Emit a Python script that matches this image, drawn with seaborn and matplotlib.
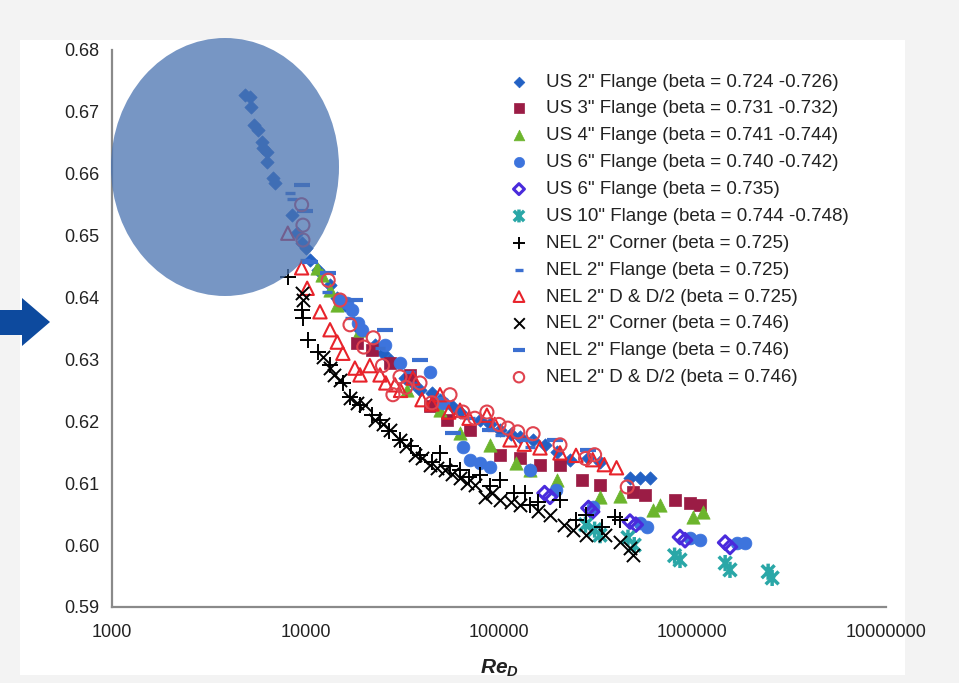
import numpy as np
import pandas as pd
import matplotlib
matplotlib.use("Agg")
import matplotlib.pyplot as plt
import seaborn as sns
from matplotlib.patches import Ellipse, Polygon, Rectangle
from matplotlib.path import Path
from matplotlib.ticker import FixedLocator, FuncFormatter, NullLocator

# ---------------- data ----------------
us2_re = [4860, 5160, 5220, 5420, 5690, 5960, 6030, 6320, 6320, 6790, 6950, 8510, 9030, 9590, 10060,
          10550, 11600, 13390, 16000, 19130, 22800, 27330, 32800, 39060, 49560, 62860, 79760, 101200,
          128400, 173000, 232800, 332700, 475300, 535500, 603200,
          14500, 25000, 36000, 45000, 57000, 90000, 115000, 150000, 200000, 290000]
us2_c = [0.6727, 0.6724, 0.6708, 0.6679, 0.6671, 0.6651, 0.6642, 0.6635, 0.6619, 0.6593, 0.6585, 0.6533,
         0.6504, 0.6488, 0.6480, 0.6461, 0.6445, 0.6420, 0.6388, 0.6348, 0.6323, 0.6299, 0.6270, 0.6251,
         0.6235, 0.6215, 0.6202, 0.6186, 0.6175, 0.6162, 0.6138, 0.6134, 0.6109, 0.6109, 0.6109,
         0.6400, 0.6310, 0.6262, 0.6245, 0.6225, 0.6195, 0.6180, 0.6170, 0.6150, 0.6140]

us3_re = [18500, 22000, 27330, 34690, 44000, 54000, 70810, 101200, 128400, 162900, 206600, 270000,
          332700, 494000, 570000, 812000, 970800, 1093000]
us3_c = [0.6327, 0.6315, 0.6294, 0.6275, 0.6225, 0.6202, 0.6186, 0.6146, 0.6141, 0.6130, 0.6130, 0.6105,
         0.6097, 0.6086, 0.6081, 0.6073, 0.6068, 0.6065]

us4_re = [11450, 12200, 13390, 14600, 19130, 33300, 49560, 62860, 89840, 123000, 144600, 199000,
          332700, 422000, 623000, 679200, 1010000, 1130000]
us4_c = [0.6448, 0.6437, 0.6412, 0.6388, 0.6348, 0.6251, 0.6218, 0.6181, 0.6162, 0.6133, 0.6121, 0.6105,
         0.6078, 0.6080, 0.6057, 0.6065, 0.6046, 0.6054]

us6a_re = [15080, 16300, 17400, 18700, 19700, 25700, 30790, 44000, 51500, 65300, 70810, 79760, 89840,
           144600, 198000, 306000, 535500, 580000, 970800, 1093000, 1700000, 1860000]
us6a_c = [0.6396, 0.6391, 0.6380, 0.6359, 0.6348, 0.6323, 0.6294, 0.6280, 0.6230, 0.6159, 0.6138, 0.6133,
          0.6126, 0.6121, 0.6089, 0.6062, 0.6036, 0.6029, 0.6012, 0.6008, 0.6004, 0.6004]

us6b_re = [172000, 183500, 290000, 303000, 475300, 509000, 861800, 915000, 1475000, 1562000]
us6b_c = [0.6084, 0.6078, 0.6060, 0.6054, 0.6038, 0.6033, 0.6013, 0.6008, 0.6004, 0.5997]

us10_re = [280000, 312000, 332700, 464000, 500000, 808000, 861800, 1475000, 1562000, 2460000, 2580000]
us10_c = [0.6033, 0.6025, 0.6016, 0.6012, 0.6000, 0.5983, 0.5976, 0.5971, 0.5960, 0.5957, 0.5947]

nel725c_re = [8100, 9550, 9700, 10300, 11600, 13390, 15600, 19130, 24270, 30790, 39060, 49560, 62860,
              79760, 101200, 137000, 144600, 206600, 280000, 398000, 422000,
              17000, 22000, 27000, 35000, 45000, 56000, 70000, 90000, 120000, 160000, 250000, 340000]
nel725c_c = [0.6433, 0.6380, 0.6367, 0.6332, 0.6312, 0.6291, 0.6262, 0.6226, 0.6202, 0.6170, 0.6146,
             0.6149, 0.6121, 0.6113, 0.6105, 0.6084, 0.6065, 0.6073, 0.6049, 0.6046, 0.6041,
             0.6240, 0.6210, 0.6185, 0.6160, 0.6135, 0.6128, 0.6110, 0.6095, 0.6085, 0.6070, 0.6040, 0.6030]

nel725f_re = [8340, 8530, 9900, 12900, 16980, 24270, 34690, 49560, 70810, 101200, 144600]
nel725f_c = [0.6569, 0.6559, 0.6461, 0.6409, 0.6367, 0.6319, 0.6280, 0.6238, 0.6205, 0.6178, 0.6159]

nel725d_re = [8100, 9550, 10200, 11880, 13390, 14600, 15600, 18000, 19130, 24270, 29000, 35900, 49560,
              62860, 86600, 114000, 162900, 206600, 305000, 405000,
              21500, 26000, 31000, 40000, 45000, 55000, 70000, 95000, 135000, 250000, 350000]
nel725d_c = [0.6504, 0.6448, 0.6415, 0.6377, 0.6348, 0.6328, 0.6310, 0.6286, 0.6275, 0.6275, 0.6259,
             0.6270, 0.6243, 0.6218, 0.6210, 0.6170, 0.6157, 0.6149, 0.6138, 0.6125,
             0.6290, 0.6262, 0.6250, 0.6235, 0.6228, 0.6215, 0.6205, 0.6195, 0.6163, 0.6145, 0.6130]

nel746c_re = [9550, 9700, 12300, 13390, 15080, 16980, 20300, 22800, 27330, 30790, 36800, 44000, 52600,
              62860, 75100, 84700, 101200, 128400, 183500, 218000, 280000, 354000, 475300, 491000,
              14000, 18500, 25000, 33000, 40000, 48000, 57000, 68000, 92000, 115000, 160000, 240000, 420000]
nel746c_c = [0.6407, 0.6396, 0.6304, 0.6286, 0.6267, 0.6238, 0.6226, 0.6202, 0.6186, 0.6170, 0.6146,
             0.6130, 0.6121, 0.6109, 0.6097, 0.6078, 0.6073, 0.6065, 0.6049, 0.6033, 0.6016, 0.6016,
             0.5995, 0.5984,
             0.6275, 0.6230, 0.6195, 0.6160, 0.6140, 0.6125, 0.6115, 0.6100, 0.6085, 0.6070, 0.6055,
             0.6025, 0.6005]

nel746f_re = [9550, 9900, 10550, 13100, 18000, 25700, 39060, 57800, 89840, 137000, 194900, 290000]
nel746f_c = [0.6582, 0.6540, 0.6458, 0.6440, 0.6396, 0.6348, 0.6299, 0.6181, 0.6186, 0.6170, 0.6170,
             0.6154]

nel746d_re = [9550, 9700, 9700, 13100, 15080, 16980, 22400, 28300, 30790, 39060, 55830, 86600, 111000,
              125000, 206600, 312000, 460000,
              20000, 25000, 33000, 45000, 65000, 75000, 100000, 150000, 280000]
nel746d_c = [0.6550, 0.6517, 0.6493, 0.6428, 0.6396, 0.6356, 0.6335, 0.6243, 0.6272, 0.6262, 0.6243,
             0.6215, 0.6189, 0.6183, 0.6162, 0.6146, 0.6094,
             0.6320, 0.6290, 0.6255, 0.6230, 0.6215, 0.6205, 0.6195, 0.6180, 0.6140]

labels = [
    'US 2" Flange (beta = 0.724 -0.726)',
    'US 3" Flange (beta = 0.731 -0.732)',
    'US 4" Flange (beta = 0.741 -0.744)',
    'US 6" Flange (beta = 0.740 -0.742)',
    'US 6" Flange (beta = 0.735)',
    'US 10" Flange (beta = 0.744 -0.748)',
    'NEL 2" Corner (beta = 0.725)',
    'NEL 2" Flange (beta = 0.725)',
    'NEL 2" D & D/2 (beta = 0.725)',
    'NEL 2" Corner (beta = 0.746)',
    'NEL 2" Flange (beta = 0.746)',
    'NEL 2" D & D/2 (beta = 0.746)',
]
series_re = [us2_re, us3_re, us4_re, us6a_re, us6b_re, us10_re,
             nel725c_re, nel725f_re, nel725d_re, nel746c_re, nel746f_re, nel746d_re]
series_c = [us2_c, us3_c, us4_c, us6a_c, us6b_c, us10_c,
            nel725c_c, nel725f_c, nel725d_c, nel746c_c, nel746f_c, nel746d_c]

x_ticks = [1000, 10000, 100000, 1000000, 10000000]
y_ticks = [0.59, 0.60, 0.61, 0.62, 0.63, 0.64, 0.65, 0.66, 0.67, 0.68]

# ---------------- styling ----------------
star = Path([(-1, -1), (1, 1), (-1, 1), (1, -1), (0, -1.25), (0, 1.25)],
            [Path.MOVETO, Path.LINETO, Path.MOVETO, Path.LINETO, Path.MOVETO, Path.LINETO])

styles = [
    dict(marker="D", s=46, color="#2261c4", edgecolor="#2261c4", linewidth=0.5),
    dict(marker="s", s=78, color="#9b1c45", edgecolor="#9b1c45", linewidth=0.5),
    dict(marker="^", s=92, color="#6cb52d", edgecolor="#6cb52d", linewidth=0.5),
    dict(marker="o", s=85, color="#3d74dd", edgecolor="#3d74dd", linewidth=0.5),
    dict(marker="D", s=48, facecolor="none", edgecolor="#4a2bdc", linewidth=2.2),
    dict(marker=star, s=135, facecolor="none", edgecolor="#2aa7a7", linewidth=2.5),
    dict(marker="+", s=135, color="black", linewidth=1.4),
    dict(marker="_", s=45, color="#3b6fd0", linewidth=2.4),
    dict(marker="^", s=92, facecolor="none", edgecolor="#e8232b", linewidth=1.5),
    dict(marker="x", s=90, color="black", linewidth=1.4),
    dict(marker="_", s=120, color="#3b6fd0", linewidth=3.0),
    dict(marker="o", s=88, facecolor="none", edgecolor="#e0434f", linewidth=1.5),
]

sns.set_theme(style="white")
plt.rcParams["font.family"] = ["Liberation Sans", "DejaVu Sans"]
plt.rcParams["mathtext.fontset"] = "custom"
plt.rcParams["mathtext.it"] = "Liberation Sans:italic:bold"
plt.rcParams["mathtext.rm"] = "Liberation Sans:bold"

W, H = 959, 683
fig = plt.figure(figsize=(W / 100, H / 100), dpi=100, facecolor="#f3f3f3")

# white panel behind the axes
panel = Rectangle((20 / W, 1 - 675 / H), (905 - 20) / W, (675 - 40) / H,
                  transform=fig.transFigure, facecolor="white", edgecolor="none", zorder=-5)
fig.add_artist(panel)

ax = fig.add_axes([112 / W, 1 - 607 / H, (886 - 112) / W, (607 - 50) / H])
ax.set_zorder(1)
ax.set_facecolor("white")

for lab, xs, ys, st in zip(labels, series_re, series_c, styles):
    df = pd.DataFrame({"Re": xs, "C": ys})
    sns.scatterplot(data=df, x="Re", y="C", ax=ax, label=lab, **st)

ax.set_xscale("log")
ax.set_xlim(1000, 10000000)
ax.set_ylim(0.59, 0.68)
ax.xaxis.set_major_locator(FixedLocator(x_ticks))
ax.xaxis.set_minor_locator(NullLocator())
ax.xaxis.set_major_formatter(FuncFormatter(lambda v, p: f"{int(round(v))}"))
ax.yaxis.set_major_locator(FixedLocator(y_ticks))
ax.yaxis.set_major_formatter(FuncFormatter(lambda v, p: f"{v:.2f}"))

for side in ["top", "right"]:
    ax.spines[side].set_visible(False)
for side in ["left", "bottom"]:
    ax.spines[side].set_color("#8a8a8a")
    ax.spines[side].set_linewidth(1.6)
ax.tick_params(axis="both", which="major", direction="out", length=5, width=1.2,
               color="#8a8a8a", labelsize=13, labelcolor="#222222")
ax.tick_params(axis="x", pad=7)
ax.tick_params(axis="y", pad=4)

ax.set_xlabel(r"$Re_D$", fontsize=15, labelpad=12, color="#222222")
ax.set_ylabel("")

leg = ax.legend(loc="upper left", bbox_to_anchor=(0.5137, 0.958), frameon=False,
                fontsize=13.5, handlelength=1.0, handletextpad=0.95, labelspacing=0.52,
                borderpad=0, borderaxespad=0, scatterpoints=1, markerscale=0.8)
for t in leg.get_texts():
    t.set_color("#222222")

# highlight ellipse (figure pixels -> fraction)
ell = Ellipse((225 / W, 1 - 167 / H), 228 / W, 258 / H, transform=fig.transFigure,
              facecolor="#4a73b0", alpha=0.75, edgecolor="none", zorder=10)
fig.add_artist(ell)

# arrow at left
arrow_px = [(0, 310), (22, 310), (22, 298), (50, 322), (22, 346), (22, 335), (0, 335)]
arrow = Polygon([(x / W, 1 - y / H) for x, y in arrow_px], closed=True, transform=fig.transFigure,
                facecolor="#0d4a9e", edgecolor="none", zorder=10)
fig.add_artist(arrow)

fig.savefig("out.png", dpi=100, facecolor=fig.get_facecolor())
